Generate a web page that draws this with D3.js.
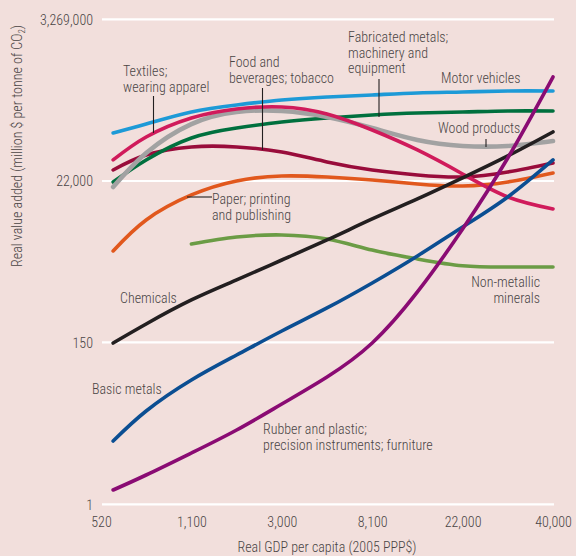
<!DOCTYPE html>
<html>
<head>
<meta charset="utf-8">
<script src="https://cdn.jsdelivr.net/npm/d3@7"></script>
<style>
  html, body { margin: 0; padding: 0; background: #f2dfdc; }
  svg { display: block; }
  text { font-family: "Liberation Sans Narrow", "Arial Narrow", "Roboto Condensed", "DejaVu Sans Condensed", sans-serif; fill: #4a4545; font-weight: 300; }
</style>
</head>
<body>
<svg id="chart" width="576" height="556"></svg>
<script>
// GDP per capita (2005 PPP$) sample points shared by all sectors
const gdp = [575, 756, 1100, 1817, 3000, 4930, 8100, 13350, 22000, 29660, 40000];

// Real value added (million $ per tonne of CO2) by sector
const motorVehicles    = [97000, 128000, 186000, 231000, 270000, 296000, 315000, 335000, 345000, 356000, 356000];
const textiles         = [42200, 85900, 154700, 204300, 217300, 174900, 106600, 57500, 27360, 13430, 9260];
const foodBeverages    = [30950, 49200, 63100, 63100, 53960, 39650, 30950, 26520, 24930, 29080, 38440];
const woodProducts     = [18300, 52300, 128000, 186000, 191900, 159500, 113400, 78300, 65050, 65050, 75900];
const fabricatedMetals = [21350, 42200, 83300, 113400, 136700, 154700, 169600, 180500, 186000, 191900, 191900];
const paperPrinting    = [2528, 6594, 14290, 22030, 25720, 24930, 22720, 20070, 18860, 21350, 28200];
const nonMetallic      = [null, null, 3137, 3897, 4147, 3663, 2600, 1974, 1600, 1541, 1541];
const chemicals        = [146.8, 264.3, 555, 1031, 1912, 3551, 6802, 12620, 24180, 47710, 100300];
const basicMetals      = [7.08, 17.92, 46.76, 101.3, 212.7, 433.6, 939.2, 2165, 5309, 13430, 42200];
const rubberPlastic    = [1.556, 2.475, 4.888, 9.955, 22.25, 51.3, 146.8, 711.2, 4990, 44850, 549600];

// Axis ticks
const xTicks = [520, 1100, 3000, 8100, 22000, 40000];
const yTicks = [1, 150, 22000, 3269000];

// Series in drawing order (bottom to top)
const series = [
  { name: "Non-metallic minerals", values: nonMetallic, color: "#6b9c45", width: 3.6 },
  { name: "Paper; printing and publishing", values: paperPrinting, color: "#e1581d", width: 3.6 },
  { name: "Food and beverages; tobacco", values: foodBeverages, color: "#990c3b", width: 3.6 },
  { name: "Fabricated metals; machinery and equipment", values: fabricatedMetals, color: "#00703e", width: 3.6 },
  { name: "Wood products", values: woodProducts, color: "#a2a2a2", width: 4.6 },
  { name: "Textiles; wearing apparel", values: textiles, color: "#d01b5b", width: 3.6 },
  { name: "Motor vehicles", values: motorVehicles, color: "#1d9ad7", width: 3.6 },
  { name: "Chemicals", values: chemicals, color: "#231f20", width: 3.6 },
  { name: "Basic metals", values: basicMetals, color: "#0b4e92", width: 3.6 },
  { name: "Rubber and plastic; precision instruments; furniture", values: rubberPlastic, color: "#8a0b73", width: 3.6 }
];

const svg = d3.select("#chart");
const plotLeft = 101, plotRight = 553, plotTop = 19.3, plotBottom = 504.3;

// GDP ticks are spaced evenly, so the x scale is a piecewise log scale
const x = d3.scaleLog()
  .domain(xTicks)
  .range(xTicks.map((d, i) => plotLeft + i * (plotRight - plotLeft) / (xTicks.length - 1)));
const y = d3.scaleLog().domain([1, 3269017]).range([plotBottom, plotTop]);

// Horizontal grid lines
svg.append("g")
  .selectAll("line")
  .data(yTicks)
  .join("line")
  .attr("x1", 102).attr("x2", 554)
  .attr("y1", d => y(d)).attr("y2", d => y(d))
  .attr("stroke", "#ffffff").attr("stroke-width", 2.2);

// Axes (labels only)
const fmt = d3.format(",");
const yAxis = svg.append("g")
  .attr("transform", `translate(${plotLeft - 8},0)`)
  .call(d3.axisLeft(y).tickValues(yTicks).tickFormat(fmt).tickSize(0).tickPadding(0));
yAxis.attr("font-family", null).attr("font-size", null);
yAxis.select(".domain").remove();
yAxis.selectAll("text").style("font-size", "14px").attr("dy", "0.35em");

const xAxis = svg.append("g")
  .attr("transform", `translate(0,${plotBottom})`)
  .call(d3.axisBottom(x).tickValues(xTicks).tickFormat(fmt).tickSize(0).tickPadding(0));
xAxis.attr("font-family", null).attr("font-size", null);
xAxis.select(".domain").remove();
xAxis.selectAll("text").style("font-size", "14px").attr("y", 23).attr("dy", 0);

// Axis titles
svg.append("text")
  .attr("x", 327).attr("y", 552)
  .attr("text-anchor", "middle")
  .style("font-size", "14px")
  .text("Real GDP per capita (2005 PPP$)");

const yTitle = svg.append("text")
  .attr("transform", "translate(22,146) rotate(-90)")
  .attr("text-anchor", "middle")
  .style("font-size", "14px");
yTitle.append("tspan").text("Real value added (million $ per tonne of CO");
yTitle.append("tspan").attr("dy", 3).style("font-size", "9px").text("2");
yTitle.append("tspan").attr("dy", -3).text(")");

// Lines
const line = d3.line()
  .x(d => x(d[0]))
  .y(d => y(d[1]))
  .curve(d3.curveNatural);

svg.append("g")
  .selectAll("path")
  .data(series)
  .join("path")
  .attr("d", s => line(gdp.map((g, i) => [g, s.values[i]]).filter(p => p[1] != null)))
  .attr("fill", "none")
  .attr("stroke", s => s.color)
  .attr("stroke-width", s => s.width)
  .attr("stroke-linecap", "round")
  .attr("stroke-linejoin", "round");

// Direct labels and leader lines
const labels = [
  { lines: ["Textiles;", "wearing apparel"], x: 123, y: 76, anchor: "start" },
  { lines: ["Food and", "beverages; tobacco"], x: 229, y: 67, anchor: "start" },
  { lines: ["Fabricated metals;", "machinery and", "equipment"], x: 348, y: 42, anchor: "start" },
  { lines: ["Motor vehicles"], x: 441, y: 83, anchor: "start" },
  { lines: ["Wood products"], x: 438, y: 133, anchor: "start" },
  { lines: ["Paper; printing", "and publishing"], x: 212, y: 204, anchor: "start" },
  { lines: ["Non-metallic", "minerals"], x: 540, y: 287, anchor: "end" },
  { lines: ["Chemicals"], x: 120, y: 303, anchor: "start" },
  { lines: ["Basic metals"], x: 92, y: 394, anchor: "start" },
  { lines: ["Rubber and plastic;", "precision instruments; furniture"], x: 263, y: 434, anchor: "start" }
];
const lineHeight = 15.5;

svg.append("g")
  .selectAll("text")
  .data(labels)
  .join("text")
  .attr("x", d => d.x).attr("y", d => d.y)
  .attr("text-anchor", d => d.anchor)
  .style("font-size", "14px")
  .each(function(d) {
    d3.select(this).selectAll("tspan")
      .data(d.lines)
      .join("tspan")
      .attr("x", d.x)
      .attr("dy", (t, i) => i === 0 ? 0 : lineHeight)
      .text(t => t);
  });

const leaders = [
  [[153.5, 96], [153.5, 133]],
  [[262.5, 88], [262.5, 150]],
  [[379, 79], [379, 117]],
  [[486, 139], [486, 147]],
  [[187, 197], [212, 197]]
];
svg.append("g")
  .selectAll("path")
  .data(leaders)
  .join("path")
  .attr("d", d => d3.line()(d))
  .attr("stroke", "#231f20")
  .attr("stroke-width", 1.1)
  .attr("fill", "none");
</script>
</body>
</html>
